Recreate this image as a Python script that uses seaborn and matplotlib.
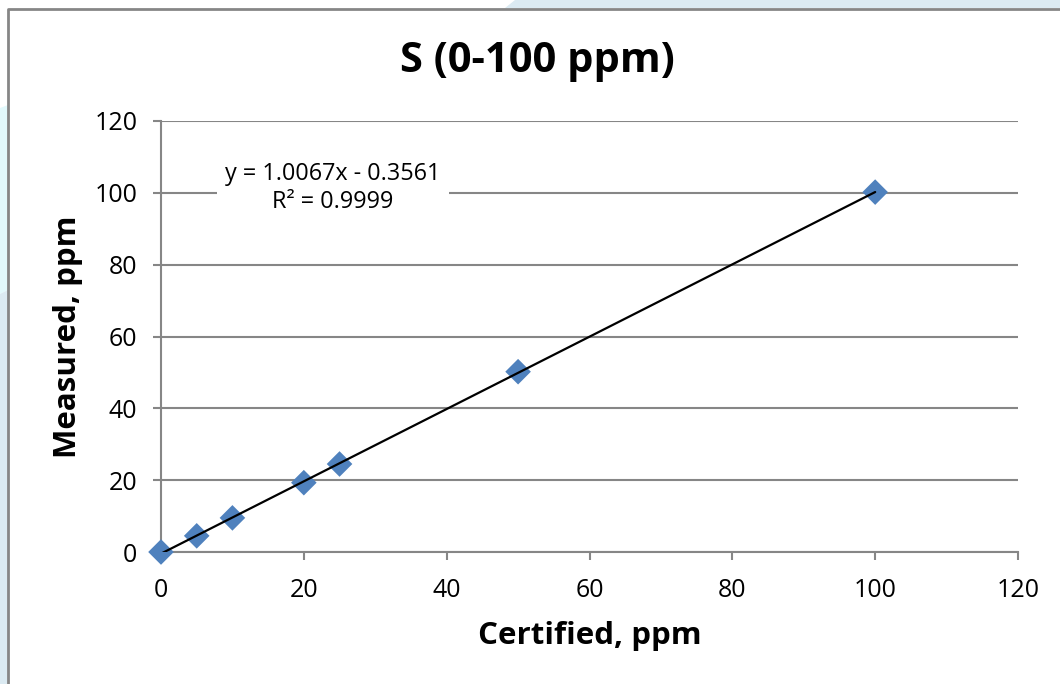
import numpy as np
import pandas as pd
import matplotlib
matplotlib.use("Agg")
import matplotlib.pyplot as plt
import seaborn as sns
from matplotlib.patches import Polygon
from matplotlib.lines import Line2D

# Data
certified = [0, 5, 10, 20, 25, 50, 100]
measured = [0.0, 4.5, 9.5, 19.3, 24.5, 50.2, 100.2]
x_ticks = [0, 20, 40, 60, 80, 100, 120]
y_ticks = [0, 20, 40, 60, 80, 100, 120]
title = "S (0-100 ppm)"
x_label = "Certified, ppm"
y_label = "Measured, ppm"
eq_text = "y = 1.0067x - 0.3561\nR² = 0.9999"

df = pd.DataFrame({"Certified": certified, "Measured": measured})

sns.set_theme(style="white")
plt.rcParams["font.family"] = ["Open Sans", "DejaVu Sans"]
plt.rcParams["text.color"] = "black"
plt.rcParams["axes.labelcolor"] = "black"

W, H = 1060, 684
fig = plt.figure(figsize=(W / 100, H / 100), dpi=100)
fig.patch.set_facecolor("white")

def px(x, y):
    return (x / W, 1 - y / H)

# background decorations (screenshot edges)
fig.patches.append(Polygon([px(515, 0), px(1060, 0), px(1060, 8), px(505, 8)],
                           closed=True, transform=fig.transFigure,
                           facecolor="#dbeaf2", edgecolor="none", zorder=0))
fig.patches.append(Polygon([px(0, 108), px(8, 105), px(8, 290), px(0, 294)],
                           closed=True, transform=fig.transFigure,
                           facecolor="#e2f9fc", edgecolor="none", zorder=0))
fig.patches.append(Polygon([px(0, 294), px(8, 290), px(8, 684), px(0, 684)],
                           closed=True, transform=fig.transFigure,
                           facecolor="#dbeaf2", edgecolor="none", zorder=0))
fig.lines.append(Line2D([8 / W, 8 / W, 1.0], [0.0, 1 - 8.5 / H, 1 - 8.5 / H],
                        transform=fig.transFigure, color="#868686", lw=2, zorder=1))

ax = fig.add_axes([161 / W, 1 - 552 / H, (1018 - 161) / W, (552 - 121) / H])
ax.set_facecolor("white")

sns.regplot(data=df, x="Certified", y="Measured", ax=ax, ci=None, marker="D",
            scatter_kws=dict(s=170, color="#4F81BD", alpha=1, edgecolor="none",
                             zorder=3, clip_on=False),
            line_kws=dict(color="black", lw=1.6, zorder=4))

ax.set_xlim(0, 120)
ax.set_ylim(0, 120)
ax.set_xticks(x_ticks)
ax.set_yticks(y_ticks)
ax.set_xticklabels([str(t) for t in x_ticks])
ax.set_yticklabels([str(t) for t in y_ticks])

ax.yaxis.grid(True, color="#868686", lw=1.5)
ax.xaxis.grid(False)
ax.set_axisbelow(True)
for s in ["top", "right"]:
    ax.spines[s].set_visible(False)
for s in ["left", "bottom"]:
    ax.spines[s].set_color("#868686")
    ax.spines[s].set_linewidth(1.5)

ax.tick_params(axis="both", which="both", direction="out", length=6, width=1.5,
               color="#868686", labelsize=18, labelcolor="black",
               bottom=True, left=True)
ax.tick_params(axis="x", pad=12.5)
ax.tick_params(axis="y", pad=11)

ax.set_xlabel(x_label, fontsize=22.5, fontweight="bold", labelpad=13, color="black")
ax.set_ylabel(y_label, fontsize=22.5, fontweight="bold", labelpad=8, color="black")

fig.text(537 / W, 1 - 62 / H, title, fontsize=30, fontweight="bold",
         ha="center", va="center", color="black")

ax.text(0.2007, 0.845, eq_text, transform=ax.transAxes, fontsize=16.8, ha="center",
        va="center", linespacing=1.2, color="black",
        bbox=dict(facecolor="white", edgecolor="none", pad=6), zorder=5)

fig.savefig("out.png", dpi=100, facecolor=fig.get_facecolor())
